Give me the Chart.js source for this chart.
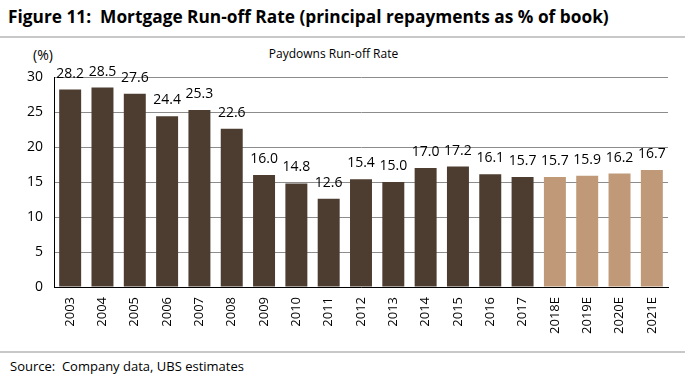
<!DOCTYPE html>
<html>
<head>
<meta charset="utf-8">
<script src="https://cdn.jsdelivr.net/npm/chart.js@4.4.1/dist/chart.umd.min.js"></script>
<style>
    body { margin: 0; width: 685px; height: 385px; background: #fff; position: relative; overflow: hidden;
           font-family: "Open Sans", "Liberation Sans", sans-serif; color: #000; }
    #title { position: absolute; left: 8px; top: 5px; font-size: 17.3px; font-weight: bold; white-space: nowrap; }
    .rule { position: absolute; left: 0; width: 685px; height: 2px; background: #c8c8c8; }
    #unit { position: absolute; left: 33px; top: 45px; font-size: 14px; }
    #sub { position: absolute; left: 0; width: 667px; top: 45px; text-align: center; font-size: 12px; }
    #source { position: absolute; left: 10px; top: 357px; font-size: 13px; }
    #wrap { position: absolute; left: 0; top: 40px; width: 685px; height: 310px; }
</style>
</head>
<body>
<div id="title">Figure 11:&nbsp; Mortgage Run-off Rate (principal repayments as % of book)</div>
<div class="rule" style="top:36px"></div>
<div id="unit">(%)</div>
<div id="sub">Paydowns Run-off Rate</div>
<div id="wrap"><canvas id="chart"></canvas></div>
<div class="rule" style="top:351px"></div>
<div id="source">Source:&nbsp; Company data, UBS estimates</div>
<script>
(() => {
    const years = ["2003", "2004", "2005", "2006", "2007", "2008", "2009", "2010", "2011", "2012",
                   "2013", "2014", "2015", "2016", "2017", "2018E", "2019E", "2020E", "2021E"];
    const runOffRate = [28.2, 28.5, 27.6, 24.4, 25.3, 22.6, 16.0, 14.8, 12.6, 15.4,
                        15.0, 17.0, 17.2, 16.1, 15.7, 15.7, 15.9, 16.2, 16.7];
    const yTicks = [0, 5, 10, 15, 20, 25, 30];

    const actualColor = "#4d3d31";
    const estimateColor = "#c09a78";

    const barColors = years.map((year) => year.endsWith("E") ? estimateColor : actualColor);

    // value labels above every bar
    const valueLabels = {
        id: "valueLabels",
        afterDatasetsDraw(chart) {
            const ctx = chart.ctx;
            const meta = chart.getDatasetMeta(0);
            ctx.save();
            ctx.font = "14px 'Open Sans', 'Liberation Sans', sans-serif";
            ctx.fillStyle = "#000";
            ctx.textAlign = "center";
            ctx.textBaseline = "alphabetic";
            meta.data.forEach((bar, i) => {
                ctx.fillText(runOffRate[i].toFixed(1), bar.x, bar.y - 12);
            });
            ctx.restore();
        }
    };

    new Chart(document.getElementById("chart"), {
        type: "bar",
        data: {
            labels: years,
            datasets: [{
                data: runOffRate,
                backgroundColor: barColors,
                borderWidth: 0,
                categoryPercentage: 0.68,
                barPercentage: 1.0
            }]
        },
        options: {
            responsive: true,
            maintainAspectRatio: false,
            animation: false,
            layout: { padding: { top: 37, right: 17, left: 0, bottom: 0 } },
            plugins: {
                legend: { display: false },
                tooltip: { enabled: false }
            },
            scales: {
                x: {
                    grid: { display: false },
                    border: { color: "#000", width: 1 },
                    ticks: {
                        color: "#000",
                        font: { family: "'Open Sans', 'Liberation Sans', sans-serif", size: 13 },
                        maxRotation: 90,
                        minRotation: 90,
                        autoSkip: false,
                        padding: 2
                    },
                    afterFit: (scale) => { scale.height = 63; }
                },
                y: {
                    min: 0,
                    max: 30,
                    afterBuildTicks: (scale) => { scale.ticks = yTicks.map((value) => ({ value })); },
                    grid: { color: "#8c8c8c", lineWidth: 1, drawTicks: false },
                    border: { color: "#000", width: 1 },
                    ticks: {
                        color: "#000",
                        font: { family: "'Open Sans', 'Liberation Sans', sans-serif", size: 14 },
                        padding: 11
                    },
                    afterFit: (scale) => { scale.width = 54; }
                }
            }
        },
        plugins: [valueLabels]
    });
})();
</script>
</body>
</html>
